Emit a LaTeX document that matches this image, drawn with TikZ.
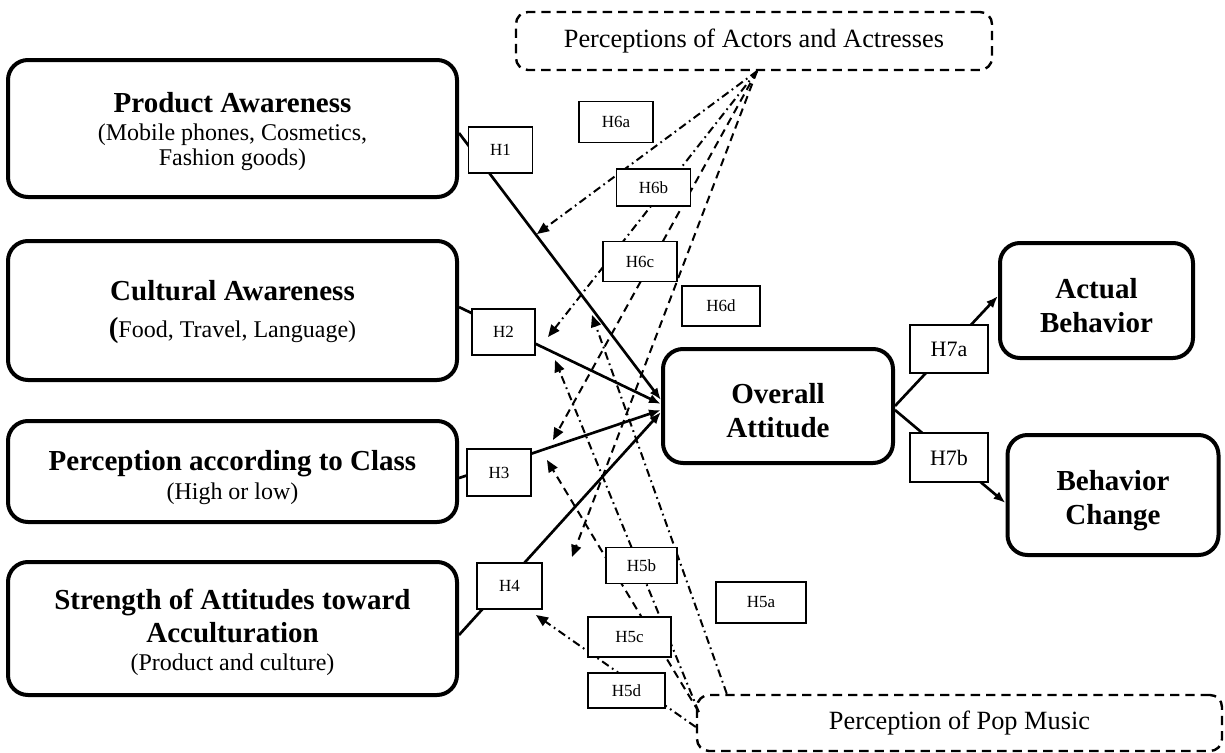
\documentclass[tikz,border=0pt]{standalone}
\usepackage{fontspec}
\setmainfont{Liberation Serif}
\usetikzlibrary{arrows.meta}
\newcommand\bxtitle{\fontsize{21.75}{24}\selectfont\bfseries}
\begin{document}
\begin{tikzpicture}[x=0.75pt,y=-0.75pt,
  bigbox/.style={draw,line width=3pt,rounded corners=15pt,fill=white,inner sep=0pt},
  boxtext/.style={align=center,inner sep=0pt,font=\fontsize{18}{18.75}\selectfont},
  midtext/.style={align=center,inner sep=0pt,font=\fontsize{21.75}{25.5}\selectfont\bfseries},
  outerdash/.style={draw,line width=1.8pt,dash pattern=on 7pt off 4.5pt,rounded corners=9pt,inner sep=0pt,font=\fontsize{19.75}{22}\selectfont},
  hbox/.style={draw,line width=1.3pt,fill=white,inner sep=0pt,font=\fontsize{12.75}{14}\selectfont},
  hboxb/.style={hbox,font=\fontsize{16.5}{18}\selectfont},
  solidarrow/.style={line width=2pt,-{Latex[length=9pt,width=7pt]}},
  dashline/.style={line width=1.5pt,dash pattern=on 6pt off 4pt,-{Triangle[length=9pt,width=7.5pt]}},
  dotline/.style={line width=1.5pt,dash pattern=on 6pt off 3pt on 1.3pt off 3pt,-{Triangle[length=9pt,width=7.5pt]}}
]
\useasboundingbox (0,0) rectangle (1225,753);

% main boxes
\node[bigbox,minimum width=336.75pt,minimum height=102.75pt] (PA) at (232.5,128.5) {};
\node[bigbox,minimum width=336.75pt,minimum height=104.25pt] (CA) at (232.5,310.5) {};
\node[bigbox,minimum width=336.75pt,minimum height=75.75pt] (PC) at (232.5,471.5) {};
\node[bigbox,minimum width=336.75pt,minimum height=99.75pt] (SA) at (232.5,628.5) {};
\node[bigbox,minimum width=172.5pt,minimum height=85.5pt] (OA) at (778,406) {};
\node[bigbox,minimum width=144.75pt,minimum height=86.25pt] (AB) at (1096.5,300.5) {};
\node[bigbox,minimum width=158.25pt,minimum height=90pt] (BC) at (1113,495) {};
\node[outerdash,minimum width=357pt,minimum height=43.5pt] (Actors) at (754,41) {Perceptions of Actors and Actresses};
\node[outerdash,minimum width=393.75pt,minimum height=42pt] (Pop) at (959.5,723) {Perception of Pop Music};

% box texts
\node[boxtext] (PAt) at ([yshift=-2.25pt]PA.center)
  {{\bxtitle Product Awareness}\\[2.25pt](Mobile phones, Cosmetics,\\Fashion goods)};
\node[boxtext] (CAt) at ([yshift=-1.5pt]CA.center)
  {{\bxtitle Cultural Awareness}\\[9pt]{\bxtitle (}Food, Travel, Language)};
\node[boxtext] (PCt) at ([yshift=-4.5pt]PC.center)
  {{\bxtitle Perception according to Class}\\[3pt](High or low)};
\node[boxtext] (SAt) at ([yshift=-3pt]SA.center)
  {{\bxtitle Strength of Attitudes toward}\\[3.75pt]{\bxtitle Acculturation}\\[2.25pt](Product and culture)};
\node[midtext] (OAt) at ([yshift=-3.4pt]OA.center) {Overall\\Attitude};
\node[midtext] (ABt) at ([yshift=-3.75pt]AB.center) {Actual\\Behavior};
\node[midtext] (BCt) at ([yshift=-4pt]BC.center) {Behavior\\Change};

% solid paths
\draw[solidarrow] ([yshift=-3.4pt]PA.east) -- ([yshift=4.5pt]OA.west);
\draw[solidarrow] ([yshift=2.6pt]CA.east) -- ([yshift=1.5pt]OA.west);
\draw[solidarrow] ([yshift=-4.9pt]PC.east) -- ([yshift=-3pt]OA.west);
\draw[solidarrow] ([yshift=-4.9pt]SA.east) -- ([yshift=-4.5pt]OA.west);
\draw[solidarrow] (OA.east) -- ([yshift=3.4pt]AB.west);
\draw[solidarrow] ([yshift=-3pt]OA.east) -- ([yshift=-6pt]BC.west);

% moderator targets and sources
\coordinate (m1) at (537,234);
\coordinate (m2) at (548,337);
\coordinate (m3) at (553,440);
\coordinate (m4) at (572,557);
\coordinate (n1) at (592,315);
\coordinate (n2) at (555,360);
\coordinate (n3) at (547,460);
\coordinate (n4) at (536,615);
\coordinate (actsrc) at ([xshift=2.25pt]Actors.south);
\coordinate (popa) at ([xshift=23.25pt]Pop.north west);
\coordinate (popb) at ([xshift=2.25pt,yshift=8.25pt]Pop.west);
\coordinate (popd) at ([yshift=-3pt]Pop.west);

\draw[dotline] (actsrc) -- (m1);
\draw[dotline] (actsrc) -- (m2);
\draw[dashline] (actsrc) -- (m3);
\draw[dashline] (actsrc) -- (m4);
\draw[dotline] (popa) -- (n1);
\draw[dotline] (popb) -- (n2);
\draw[dashline] (popb) -- (n3);
\draw[dotline] (popd) -- (n4);

% hypothesis labels
\node[hbox,minimum width=48pt,minimum height=34.5pt] (H1) at (500.5,150) {H1};
\node[hbox,minimum width=47.25pt,minimum height=34.5pt] (H2) at (503.5,332) {H2};
\node[hbox,minimum width=48pt,minimum height=35.25pt] (H3) at (499,472.5) {H3};
\node[hbox,minimum width=48.75pt,minimum height=34.5pt] (H4) at (509.5,586) {H4};
\node[hbox,minimum width=55.5pt,minimum height=30.75pt] (H6a) at (616,122) {H6a};
\node[hbox,minimum width=55.5pt,minimum height=27.75pt] (H6b) at (653.5,187.5) {H6b};
\node[hbox,minimum width=55.5pt,minimum height=30pt] (H6c) at (640,261.5) {H6c};
\node[hbox,minimum width=58.5pt,minimum height=30pt] (H6d) at (721,306) {H6d\hspace{7.5pt}};
\node[hbox,minimum width=67.5pt,minimum height=30.75pt] (H5a) at (761,602.5) {H5a\hspace{16.5pt}};
\node[hbox,minimum width=53.25pt,minimum height=27pt] (H5b) at (641.5,565.5) {H5b};
\node[hbox,minimum width=62.25pt,minimum height=30pt] (H5c) at (629.5,637) {H5c\hspace{13.5pt}};
\node[hbox,minimum width=57.75pt,minimum height=26.25pt] (H5d) at (626.5,690.5) {H5d\hspace{7.5pt}};
\node[hboxb,minimum width=58.5pt,minimum height=36pt] (H7a) at (949,349) {H7a};
\node[hboxb,minimum width=58.5pt,minimum height=36.75pt] (H7b) at (949,457.5) {H7b};
\end{tikzpicture}
\end{document}
